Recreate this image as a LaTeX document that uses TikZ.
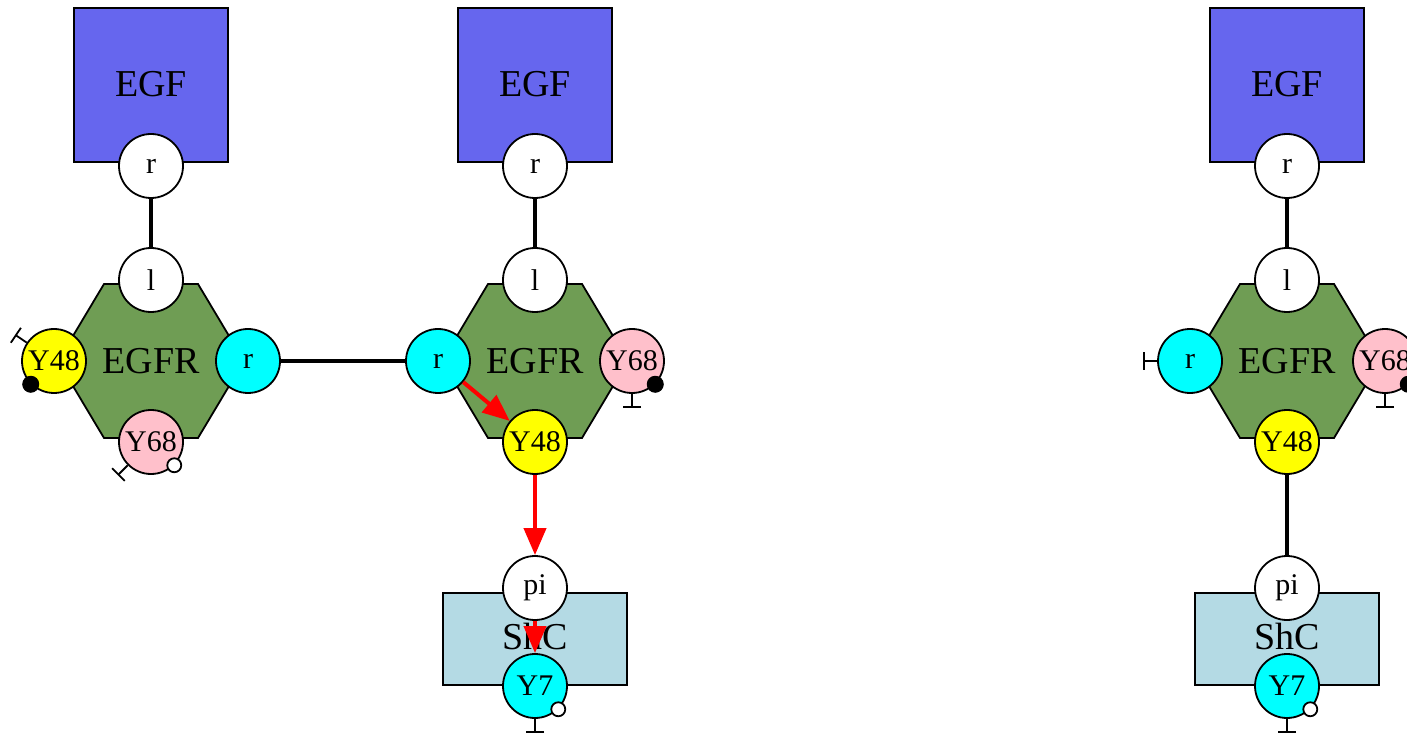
\documentclass[tikz,border=0pt]{standalone}
\usepackage{fontspec}
\setmainfont{Liberation Serif}
\usetikzlibrary{arrows.meta, calc}

\definecolor{egfblue}{RGB}{102,102,238}
\definecolor{egfrgreen}{RGB}{111,157,84}
\definecolor{shcblue}{RGB}{180,218,228}
\definecolor{sitecyan}{RGB}{0,255,255}
\definecolor{sitepink}{RGB}{255,192,203}
\definecolor{siteyellow}{RGB}{255,255,0}

\begin{document}
\begin{tikzpicture}[x=0.5pt, y=-0.5pt,
    agent/.style={draw, line width=0.9pt, fill=#1, inner sep=0pt, font=\fontsize{19}{22}\selectfont},
    site/.style={circle, draw, line width=0.9pt, fill=#1, minimum size=32pt, inner sep=0pt, font=\fontsize{15}{17}\selectfont},
    hexa/.style={draw, line width=0.9pt, fill=egfrgreen},
    bond/.style={line width=2pt},
    flow/.style={-{Triangle[length=13.5pt,width=11pt]}, red, line width=2pt},
    tee/.style={line width=0.9pt, -{Bar[width=9pt]}},
    bdot/.style={draw=black, fill=black, line width=0.5pt},
    wdot/.style={draw=black, fill=white, line width=0.9pt}]
    \useasboundingbox (0,0) rectangle (1407,737);

    % EGFR bodies
    \foreach \cx in {151,535,1287}
        \draw[hexa] (\cx-93,361) -- (\cx-47,284) -- (\cx+47,284) -- (\cx+93,361) -- (\cx+47,438) -- (\cx-47,438) -- cycle;

    % left complex
    \node[agent=egfblue, minimum width=77pt, minimum height=77pt] (egfA) at (151,85) {\raisebox{1pt}{EGF}};
    \node[site=white] (egfAr) at (151,166) {r};
    \node[font=\fontsize{19}{22}\selectfont] (egfrA) at (151,361) {EGFR};
    \node[site=white] (egfrAl) at (151,280) {l};
    \node[site=siteyellow] (egfrAy48) at (54,361) {Y48};
    \node[site=sitecyan] (egfrAr) at (248,361) {r};
    \node[site=sitepink] (egfrAy68) at (151,442) {Y68};

    % middle complex
    \node[agent=egfblue, minimum width=77pt, minimum height=77pt] (egfB) at (535,85) {\raisebox{1pt}{EGF}};
    \node[site=white] (egfBr) at (535,166) {r};
    \node[font=\fontsize{19}{22}\selectfont] (egfrB) at (535,361) {EGFR};
    \node[site=white] (egfrBl) at (535,280) {l};
    \node[site=sitecyan] (egfrBr) at (438,361) {r};
    \node[site=sitepink] (egfrBy68) at (632,361) {Y68};
    \node[site=siteyellow] (egfrBy48) at (535,442) {Y48};
    \node[agent=shcblue, minimum width=92pt, minimum height=46pt] (shcB) at (535,639) {\raisebox{3pt}{ShC}};
    \node[site=white] (shcBpi) at (535,588) {pi};
    \node[site=sitecyan] (shcBy7) at (535,686) {Y7};

    % right complex
    \node[agent=egfblue, minimum width=77pt, minimum height=77pt] (egfC) at (1287,85) {\raisebox{1pt}{EGF}};
    \node[site=white] (egfCr) at (1287,166) {r};
    \node[font=\fontsize{19}{22}\selectfont] (egfrC) at (1287,361) {EGFR};
    \node[site=white] (egfrCl) at (1287,280) {l};
    \node[site=sitecyan] (egfrCr) at (1190,361) {r};
    \node[site=sitepink] (egfrCy68) at (1385,361) {Y68};
    \node[site=siteyellow] (egfrCy48) at (1287,442) {Y48};
    \node[agent=shcblue, minimum width=92pt, minimum height=46pt] (shcC) at (1287,639) {\raisebox{3pt}{ShC}};
    \node[site=white] (shcCpi) at (1287,588) {pi};
    \node[site=sitecyan] (shcCy7) at (1287,686) {Y7};

    % bonds
    \draw[bond] (egfAr) -- (egfrAl);
    \draw[bond] (egfBr) -- (egfrBl);
    \draw[bond] (egfCr) -- (egfrCl);
    \draw[bond] (egfrAr) -- (egfrBr);
    \draw[bond] (egfrCy48) -- (shcCpi);

    % flow
    \draw[flow] (egfrBr) -- (egfrBy48);
    \draw[flow] (egfrBy48) -- (shcBpi);
    \draw[flow] (shcBpi) -- (shcBy7);

    % site states
    \draw[tee] (egfrAy48.146) -- ++(146:7pt);
    \filldraw[bdot] (egfrAy48.225) circle[radius=4pt];
    \draw[tee] (egfrAy68.225) -- ++(225:7pt);
    \filldraw[wdot] (egfrAy68.-45) circle[radius=3.5pt];
    \draw[tee] (egfrBy68.270) -- ++(270:7pt);
    \filldraw[bdot] (egfrBy68.-45) circle[radius=4pt];
    \draw[tee] (shcBy7.270) -- ++(270:7pt);
    \filldraw[wdot] (shcBy7.-45) circle[radius=3.5pt];
    \draw[tee] (egfrCr.180) -- ++(180:7pt);
    \draw[tee] (egfrCy68.270) -- ++(270:7pt);
    \filldraw[bdot] (egfrCy68.-45) circle[radius=4pt];
    \draw[tee] (shcCy7.270) -- ++(270:7pt);
    \filldraw[wdot] (shcCy7.-45) circle[radius=3.5pt];
\end{tikzpicture}
\end{document}
